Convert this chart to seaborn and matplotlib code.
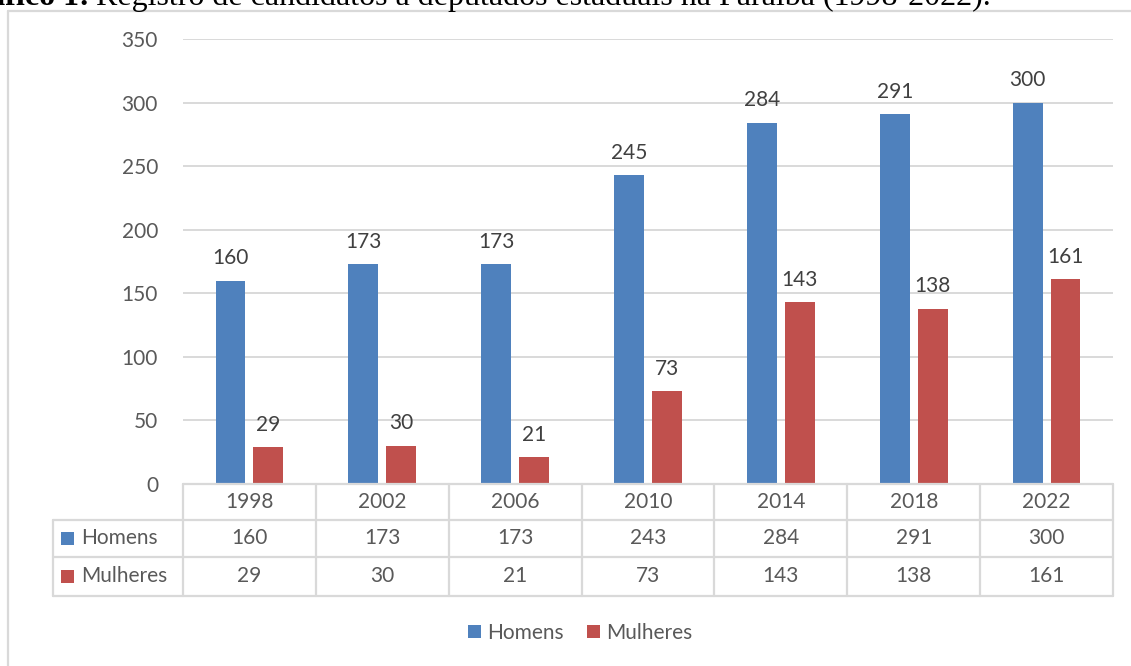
import pandas as pd
import matplotlib.pyplot as plt
import matplotlib.transforms as mtransforms
from matplotlib.patches import Rectangle
from matplotlib.lines import Line2D
import seaborn as sns

# dados do gráfico
anos = ['1998', '2002', '2006', '2010', '2014', '2018', '2022']
homens = [160, 173, 173, 243, 284, 291, 300]
mulheres = [29, 30, 21, 73, 143, 138, 161]
# rótulos das barras como aparecem no original (2010 mostra 245)
rotulos_homens = [160, 173, 173, 245, 284, 291, 300]
rotulos_mulheres = [29, 30, 21, 73, 143, 138, 161]
series = ['Homens', 'Mulheres']
cores = {'Homens': '#4f81bd', 'Mulheres': '#c0504d'}

sns.set_theme(style='white')
plt.rcParams['font.family'] = ['Lato', 'DejaVu Sans']
fs = 15

df = pd.DataFrame({
    'Ano': anos * 2,
    'Sexo': ['Homens'] * len(anos) + ['Mulheres'] * len(anos),
    'Valor': homens + mulheres,
})

W, H = 1131, 666
fig = plt.figure(figsize=(W / 100, H / 100), dpi=100)
ax = fig.add_axes([183 / W, 1 - 484 / H, 930 / W, 445 / H])

sns.barplot(data=df, x='Ano', y='Valor', hue='Sexo', order=anos, hue_order=series,
            palette=cores, width=0.57, gap=0.21, linewidth=0, saturation=1, ax=ax)

ax.set_xlim(-0.5, len(anos) - 0.5)
ax.set_ylim(0, 350)
ax.set_yticks(range(0, 351, 50))
ax.set_xticks([])
ax.set_xlabel('')
ax.set_ylabel('')
ax.set_axisbelow(True)
ax.grid(axis='y', color='#d9d9d9', linewidth=1.4)
for s in ax.spines.values():
    s.set_visible(False)
ax.tick_params(axis='y', length=0, pad=18, labelsize=fs, labelcolor='#595959')

# rótulos de dados
for cont, rot in zip(ax.containers, [rotulos_homens, rotulos_mulheres]):
    ax.bar_label(cont, labels=[str(v) for v in rot], padding=9, fontsize=fs, color='#404040')

# tabela de dados abaixo do gráfico
trans = mtransforms.blended_transform_factory(ax.transData, ax.transAxes)
ph = 445.0
linhas_y = [0, -36 / ph, -73 / ph, -112 / ph]
x_esq = -0.5 - 130 / 132.86
x_dir = len(anos) - 0.5
cor_linha = '#d9d9d9'
kw = dict(color=cor_linha, linewidth=1.6, transform=trans, clip_on=False)
ax.plot([-0.5, x_dir], [linhas_y[0]] * 2, **kw)
for y in linhas_y[1:]:
    ax.plot([x_esq, x_dir], [y, y], **kw)
for i in range(len(anos) + 1):
    ax.plot([i - 0.5, i - 0.5], [linhas_y[0], linhas_y[3]], **kw)
ax.plot([x_esq, x_esq], [linhas_y[1], linhas_y[3]], **kw)

txt = dict(transform=trans, ha='center', va='center', fontsize=fs, color='#595959', clip_on=False)
for i, ano in enumerate(anos):
    ax.text(i, (linhas_y[0] + linhas_y[1]) / 2, ano, **txt)
    ax.text(i, (linhas_y[1] + linhas_y[2]) / 2, str(homens[i]), **txt)
    ax.text(i, (linhas_y[2] + linhas_y[3]) / 2, str(mulheres[i]), **txt)

for k, nome in enumerate(series):
    yc = (linhas_y[k + 1] + linhas_y[k + 2]) / 2
    ax.add_patch(Rectangle((-0.5 - 122 / 132.86, yc - 6.5 / ph), 13 / 132.86, 13 / ph,
                           facecolor=cores[nome], edgecolor='none', transform=trans, clip_on=False))
    ax.text(-0.5 - 102 / 132.86, yc, nome, transform=trans, ha='left', va='center',
            fontsize=fs, color='#595959', clip_on=False)

# legenda
handles, labels = ax.get_legend_handles_labels()
ax.legend(handles, labels, loc='center', bbox_to_anchor=(580 / W, 1 - 633 / H),
          bbox_transform=fig.transFigure, ncol=2, frameon=False, fontsize=fs,
          handlelength=0.62, handleheight=0.62, handletextpad=0.3, columnspacing=1.1,
          labelcolor='#595959')

# moldura do gráfico
fig.add_artist(Line2D([7.5 / W, 7.5 / W], [0, 1 - 11 / H], color=cor_linha, linewidth=1.6,
                      transform=fig.transFigure))
fig.add_artist(Line2D([7.5 / W, 1], [1 - 11 / H, 1 - 11 / H], color=cor_linha, linewidth=1.6,
                      transform=fig.transFigure))

# título (cortado no topo, como no original)
serif = ['Liberation Serif', 'DejaVu Serif']
t1 = fig.text(-50 / W, 1 - 5 / H, 'Gráfico 1:', fontsize=23, fontweight='bold',
              family=serif, va='baseline', color='black')
fig.canvas.draw()
bb = t1.get_window_extent(renderer=fig.canvas.get_renderer())
fig.text(bb.x1 / W + 6 / W, 1 - 5 / H, 'Registro de candidatos a deputados estaduais na Paraíba (1998-2022).',
         fontsize=23, family=serif, va='baseline', color='black')

fig.savefig('out.png', dpi=100)
